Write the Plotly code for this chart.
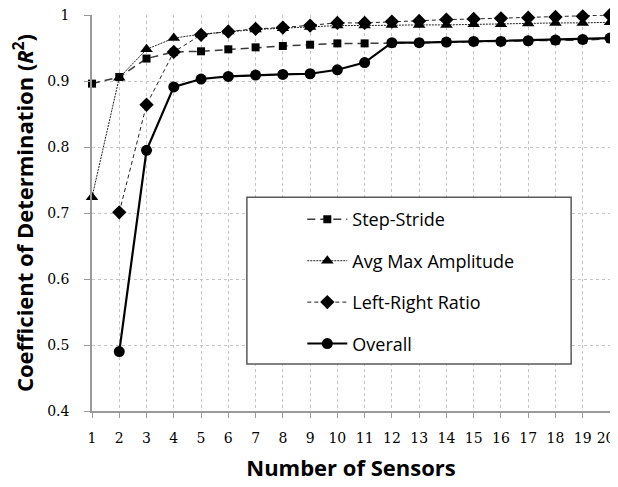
import plotly.graph_objects as go

sensors = list(range(1, 21))
x_tick_text = [str(i) for i in range(1, 20)] + ["20\u00a0\u00a0"]
step_stride = [0.896, 0.906, 0.934, 0.944, 0.945, 0.948, 0.951, 0.953, 0.955, 0.957,
               0.957, 0.957, 0.958, 0.959, 0.959, 0.960, 0.961, 0.961, 0.962, 0.964]
avg_max_amp = [0.724, 0.905, 0.948, 0.965, 0.971, 0.975, 0.978, 0.980, 0.982, 0.984,
               0.984, 0.985, 0.985, 0.985, 0.986, 0.986, 0.987, 0.988, 0.988, 0.989]
left_right = [None, 0.701, 0.864, 0.944, 0.970, 0.975, 0.979, 0.981, 0.984, 0.988,
              0.988, 0.990, 0.991, 0.993, 0.994, 0.995, 0.996, 0.997, 0.998, 1.000]
overall = [None, 0.490, 0.795, 0.891, 0.903, 0.907, 0.909, 0.910, 0.911, 0.917,
           0.928, 0.958, 0.958, 0.959, 0.960, 0.960, 0.961, 0.962, 0.963, 0.965]

names = ["Step-Stride", "Avg Max Amplitude", "Left-Right Ratio", "Overall"]
y_ticks = [0.4, 0.5, 0.6, 0.7, 0.8, 0.9, 1.0]
y_tick_text = ["0.4", "0.5", "0.6", "0.7", "0.8", "0.9", "1"]

fig = go.Figure()
fig.add_trace(go.Scatter(
    x=sensors, y=step_stride, name=names[0], mode="lines+markers", cliponaxis=False,
    line=dict(color="#3a3a3a", width=1.5, dash="8px,5px"),
    marker=dict(symbol="square", size=8, color="black"), legendgroup="a"))
fig.add_trace(go.Scatter(
    x=sensors, y=avg_max_amp, name=names[1], mode="lines+markers", cliponaxis=False,
    line=dict(color="#222222", width=1, dash="2px,1px"),
    marker=dict(symbol="triangle-up", size=11, color="black"), legendgroup="b"))
fig.add_trace(go.Scatter(
    x=sensors, y=left_right, name=names[2], mode="lines+markers", cliponaxis=False,
    line=dict(color="#222222", width=1, dash="4px,3px"),
    marker=dict(symbol="diamond", size=11, color="black"), legendgroup="c"))
fig.add_trace(go.Scatter(
    x=sensors, y=overall, name=names[3], mode="lines+markers", cliponaxis=False,
    line=dict(color="black", width=2.2),
    marker=dict(symbol="circle", size=11, color="black"), legendgroup="d"))

grid = dict(showgrid=True, gridcolor="#c4c4c4", griddash="dot", gridwidth=1)

# The page body adds an 8px offset, so the figure is sized to fit the window.
fig.update_layout(
    width=610, height=479,
    margin=dict(l=84, r=8, t=7, b=76),
    paper_bgcolor="white", plot_bgcolor="white",
    font=dict(family="DejaVu Serif", color="black"),
    xaxis=dict(range=[1, 20], tickmode="array", tickvals=sensors, ticktext=x_tick_text,
               automargin=False, ticklabeloverflow="allow",
               showline=True, linecolor="#9a9a9a", linewidth=1.5,
               ticks="outside", ticklen=5, tickcolor="#9a9a9a",
               tickfont=dict(family="DejaVu Serif", size=14),
               ticklabelstandoff=8,
               title=dict(text="Number of Sensors", standoff=16,
                          font=dict(family="Open Sans", size=22, weight="bold")),
               zeroline=False, **grid),
    yaxis=dict(range=[0.4, 1.0], tickmode="array",
               tickvals=y_ticks, ticktext=y_tick_text,
               automargin=False, ticklabeloverflow="allow",
               showline=True, linecolor="#9a9a9a", linewidth=1.5,
               ticks="outside", ticklen=6, tickcolor="#9a9a9a",
               tickfont=dict(family="DejaVu Serif", size=14),
               ticklabelstandoff=12,
               title=dict(text="Coefficient of Determination (<i>R</i><sup>2</sup>)", standoff=12,
                          font=dict(family="Open Sans", size=22, weight="bold")),
               zeroline=False, **grid),
    showlegend=True,
    legend=dict(x=0.406, y=0.530, xanchor="left", yanchor="top",
                bgcolor="rgba(0,0,0,0)", borderwidth=0,
                font=dict(family="Open Sans", size=18),
                tracegroupgap=15, itemwidth=40),
    shapes=[dict(type="rect", xref="paper", yref="paper",
                 x0=0.299, x1=0.925, y0=0.119, y1=0.540,
                 fillcolor="white", line=dict(color="#595959", width=1.5),
                 layer="above")],
)

fig.write_html("out.html")
